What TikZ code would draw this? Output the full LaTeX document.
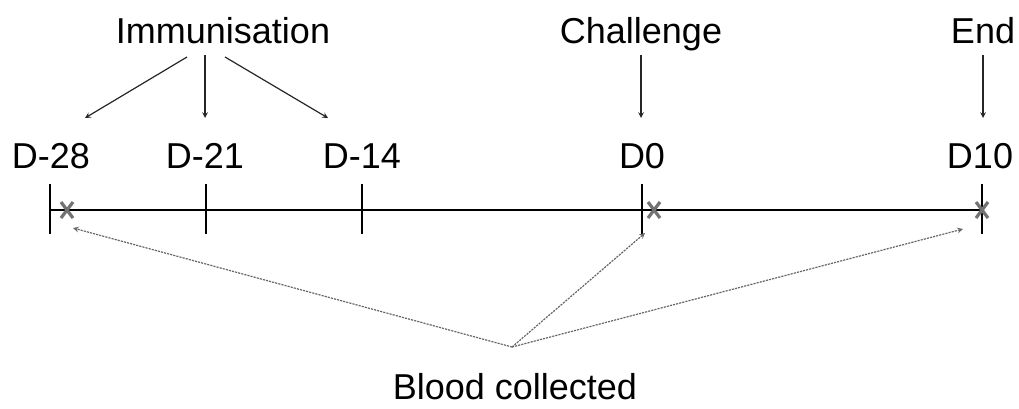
\documentclass[tikz,border=0pt]{standalone}
\usepackage{fontspec}
\setmainfont{Liberation Sans}
\usetikzlibrary{arrows,positioning}

\begin{document}
\begin{tikzpicture}[
  x=0.75pt, y=-0.75pt,
  txt/.style={font=\fontsize{27}{32}\selectfont, inner sep=0pt, anchor=base},
  arr/.style={->, >=stealth, line width=0.9pt, black!85},
  sample/.style={->, >=stealth, dash pattern=on 1.6pt off 0.8pt,
                 line width=0.9pt, black!60},
  daytick/.style={line width=2.2pt},
  cross/.style={draw=black!55, line width=2.4pt},
]
  \useasboundingbox (0,0) rectangle (1019,408);

  %% ---- events ----
  \node[txt] (imm) at (223,43) {Immunisation};
  \node[txt] (chal) at (641,43) {Challenge};
  \node[txt] (end) at (983,43) {End};

  %% ---- day labels ----
  \node[txt] (d28) at (51,168) {D-28};
  \node[txt] (d21) at (205,168) {D-21};
  \node[txt] (d14) at (362,168) {D-14};
  \node[txt] (d0)  at (642,168) {D0};
  \node[txt] (d10) at (980,168) {D10};

  %% ---- timeline and ticks ----
  \coordinate (t28) at (50,210);
  \coordinate (t21) at (206,210);
  \coordinate (t14) at (362,210);
  \coordinate (t0)  at (642,210);
  \coordinate (t10) at (982,210);
  \draw[daytick] (t28) -- (t10);
  \foreach \t in {t28,t21,t14,t0,t10}
    \draw[daytick] ([shift={(0,-26)}]\t) -- ([shift={(0,24)}]\t);

  %% ---- sampling marks ----
  \coordinate (x1) at (67,210);
  \coordinate (x2) at (654,210);
  \coordinate (x3) at (982,210);
  \foreach \x in {x1,x2,x3}
    \draw[cross] ([shift={(-6,-8)}]\x) -- ([shift={(6,8)}]\x)
                 ([shift={(-6,8)}]\x) -- ([shift={(6,-8)}]\x);

  %% ---- event arrows ----
  \draw[arr] ([shift={(-36,14)}]imm.base) -- ([shift={(34,-50)}]d28.base);
  \draw[arr] ([shift={(-18,12)}]imm.base) -- ([shift={(0,-50)}]d21.base);
  \draw[arr] ([shift={(2,14)}]imm.base) -- ([shift={(-34,-50)}]d14.base);
  \draw[arr] ([shift={(0,12)}]chal.base) -- ([shift={(-1,-50)}]d0.base);
  \draw[arr] ([shift={(0,12)}]end.base) -- ([shift={(3,-50)}]d10.base);

  %% ---- blood samples ----
  \node[txt] (blood) at (515,399) {Blood collected};
  \coordinate (bl) at (512,347);
  \draw[sample] (bl) -- ([shift={(6,18)}]x1);
  \draw[sample] (bl) -- ([shift={(-9,23)}]x2);
  \draw[sample] (bl) -- ([shift={(-19,19)}]x3);
\end{tikzpicture}
\end{document}
